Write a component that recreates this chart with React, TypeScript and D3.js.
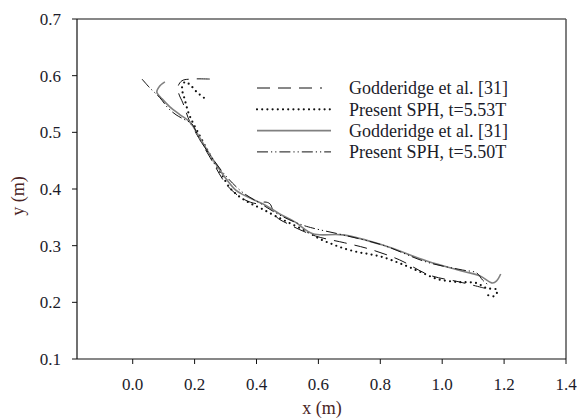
import React from "react";
import * as d3 from "d3";

const xTicks = [0.0, 0.2, 0.4, 0.6, 0.8, 1.0, 1.2, 1.4];
const yTicks = [0.1, 0.2, 0.3, 0.4, 0.5, 0.6, 0.7];

// Godderidge et al. [31] (t=5.53T) - dashed
const godd553: [number, number][] = [
  [0.249, 0.594], [0.188, 0.594], [0.159, 0.591], [0.146, 0.58], [0.149, 0.568],
  [0.162, 0.552], [0.185, 0.518], [0.217, 0.487], [0.256, 0.45], [0.307, 0.405],
  [0.362, 0.381], [0.404, 0.374], [0.427, 0.377], [0.443, 0.374], [0.462, 0.352],
  [0.507, 0.337], [0.591, 0.317], [0.685, 0.305], [0.765, 0.294], [0.862, 0.275],
  [0.959, 0.248], [1.056, 0.236], [1.137, 0.225],
];

// Present SPH, t=5.53T - dotted
const sph553: [number, number][] = [
  [0.23, 0.561], [0.207, 0.571], [0.185, 0.584], [0.169, 0.589], [0.159, 0.578],
  [0.165, 0.564], [0.172, 0.55], [0.178, 0.538], [0.188, 0.524], [0.207, 0.504],
  [0.236, 0.474], [0.259, 0.451], [0.285, 0.428], [0.314, 0.402], [0.346, 0.386],
  [0.379, 0.375], [0.417, 0.365], [0.462, 0.352], [0.514, 0.338], [0.566, 0.324],
  [0.604, 0.312], [0.643, 0.303], [0.678, 0.296], [0.724, 0.289], [0.765, 0.285],
  [0.807, 0.28], [0.853, 0.271], [0.894, 0.262], [0.936, 0.252], [0.985, 0.241],
  [1.046, 0.236], [1.111, 0.234], [1.143, 0.225], [1.178, 0.222], [1.169, 0.211],
  [1.146, 0.213],
];

// Godderidge et al. [31] (t=5.50T) - solid gray
const godd550: [number, number][] = [
  [0.104, 0.589], [0.088, 0.582], [0.078, 0.571], [0.095, 0.559], [0.12, 0.545],
  [0.153, 0.531], [0.185, 0.518], [0.217, 0.49], [0.256, 0.455], [0.295, 0.423],
  [0.333, 0.398], [0.379, 0.384], [0.427, 0.372], [0.475, 0.356], [0.524, 0.342],
  [0.582, 0.321], [0.679, 0.319], [0.808, 0.301], [0.95, 0.273], [1.066, 0.255],
  [1.121, 0.247], [1.163, 0.234], [1.176, 0.238], [1.189, 0.25],
];

// Present SPH, t=5.50T - dash-dot-dot
const sph550: [number, number][] = [
  [0.03, 0.594], [0.056, 0.578], [0.088, 0.561], [0.114, 0.543], [0.14, 0.531],
  [0.169, 0.522], [0.191, 0.515], [0.217, 0.487], [0.25, 0.46], [0.298, 0.425],
  [0.353, 0.395], [0.411, 0.375], [0.475, 0.354], [0.54, 0.338], [0.582, 0.331],
  [0.679, 0.319], [0.808, 0.301], [0.95, 0.271], [1.066, 0.257], [1.111, 0.252],
  [1.131, 0.239], [1.153, 0.229],
];

const legendLabels = [
  "Godderidge et al. [31]",
  "Present SPH, t=5.53T",
  "Godderidge et al. [31]",
  "Present SPH, t=5.50T",
];

const W = 577;
const H = 419;
const L = 77, R = 566, T = 19, B = 359;
const FONT = '"Liberation Serif", "Times New Roman", "DejaVu Serif", serif';

const styles = [
  { stroke: "#111", width: 1, dash: "13 8", cap: "butt" },
  { stroke: "#111", width: 2.2, dash: "0 5.2", cap: "round" },
  { stroke: "#808080", width: 1.6, dash: "", cap: "butt" },
  { stroke: "#111", width: 1, dash: "11 3 1.2 3 1.2 3", cap: "butt" },
];

const textStyle = { fontFamily: FONT } as React.CSSProperties;

export default function App() {
  const x = d3.scaleLinear().domain([-0.18, 1.4]).range([L, R]);
  const y = d3.scaleLinear().domain([0.1, 0.7]).range([B, T]);
  const line = d3
    .line<[number, number]>()
    .x((d) => x(d[0]))
    .y((d) => y(d[1]))
    .curve(d3.curveCatmullRom.alpha(0.5));

  const series = [godd553, sph553, godd550, sph550];

  return (
    <svg
      width={W}
      height={H}
      style={{ position: "absolute", left: 0, top: 0, background: "#fff", fontFamily: FONT }}
    >
      <rect x={0} y={0} width={W} height={H} fill="#fff" />
      {/* frame */}
      <line x1={L} y1={T} x2={R} y2={T} stroke="#111" strokeWidth={1.2} />
      <line x1={R} y1={T} x2={R} y2={B} stroke="#555" strokeWidth={1.5} />
      <line x1={L} y1={T} x2={L} y2={B} stroke="#111" strokeWidth={1.2} />
      <line x1={L} y1={B} x2={R} y2={B} stroke="#111" strokeWidth={1.2} />

      {yTicks.map((t) => (
        <g key={"y" + t}>
          <line x1={L - 5} x2={L} y1={y(t)} y2={y(t)} stroke="#111" strokeWidth={1} />
          <text
            x={61}
            y={y(t)}
            dy="0.35em"
            textAnchor="end"
            fontSize={17}
            fill="#1c1c2a"
            style={textStyle}
          >
            {t.toFixed(1)}
          </text>
        </g>
      ))}
      {xTicks.map((t) => (
        <g key={"x" + t}>
          <line x1={x(t)} x2={x(t)} y1={B} y2={B + 5} stroke="#111" strokeWidth={1} />
          <text x={x(t)} y={390} textAnchor="middle" fontSize={17} fill="#1c1c2a" style={textStyle}>
            {t.toFixed(1)}
          </text>
        </g>
      ))}

      <text x={322} y={414} textAnchor="middle" fontSize={18} fill="#4a2424" style={textStyle}>
        x (m)
      </text>
      <text
        transform="translate(24,196) rotate(-90)"
        textAnchor="middle"
        fontSize={18}
        fill="#4a2424"
        style={textStyle}
      >
        y (m)
      </text>

      {series.map((s, i) => (
        <path
          key={"s" + i}
          d={line(s) || ""}
          fill="none"
          stroke={styles[i].stroke}
          strokeWidth={styles[i].width}
          strokeDasharray={styles[i].dash || undefined}
          strokeLinecap={styles[i].cap as any}
        />
      ))}

      {legendLabels.map((lab, i) => {
        const ly = 88 + i * 21.3;
        return (
          <g key={"l" + i}>
            <line
              x1={257}
              x2={i === 0 ? 322 : 331}
              y1={ly}
              y2={ly}
              stroke={styles[i].stroke}
              strokeWidth={styles[i].width}
              strokeDasharray={styles[i].dash || undefined}
              strokeLinecap={styles[i].cap as any}
            />
            <text x={349} y={ly} dy="0.35em" fontSize={18} fill="#1c1c2a" style={textStyle}>
              {lab}
            </text>
          </g>
        );
      })}
    </svg>
  );
}
